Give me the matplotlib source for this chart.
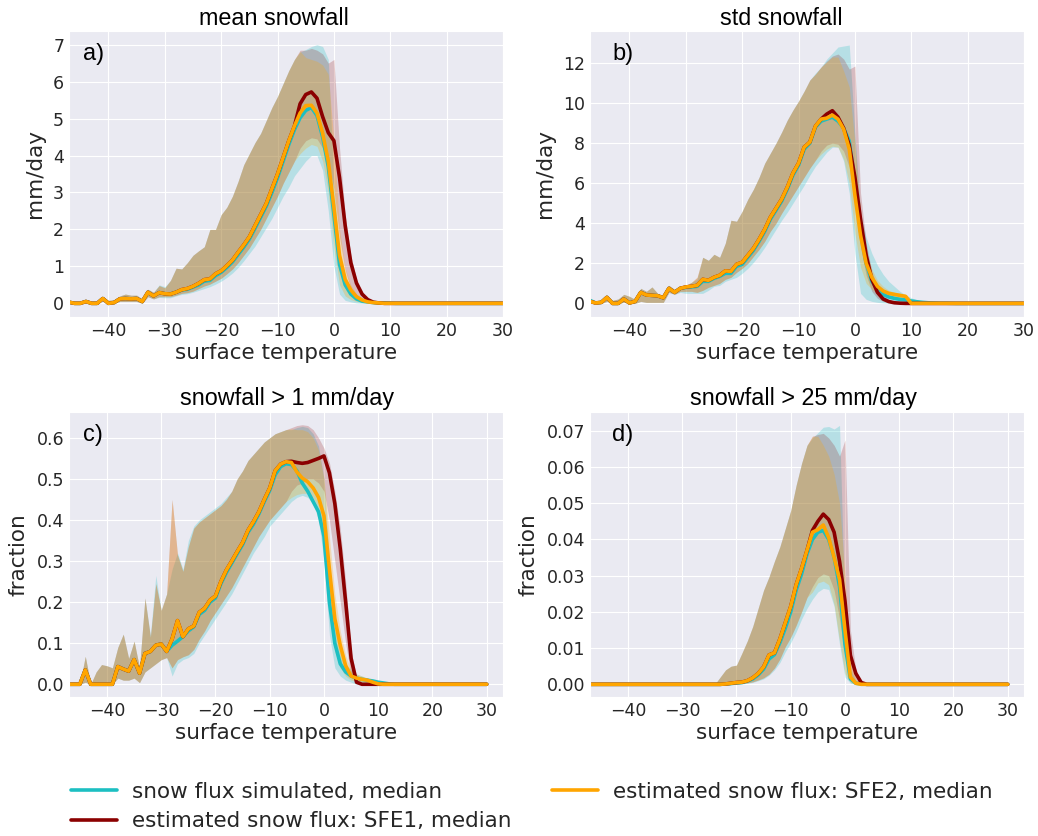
import matplotlib
matplotlib.use("Agg")
import matplotlib.pyplot as plt
import seaborn as sns
from matplotlib.lines import Line2D

# ---------------- data ----------------
T = list(range(-47, 31))  # surface temperature bins

# ---- panel a: mean snowfall ----
A_SIM_MED = [0.03, 0.0, 0.0, 0.05, 0.0, 0.0, 0.13, 0.0, 0.02, 0.12,
             0.13, 0.12, 0.13, 0.05, 0.3, 0.2, 0.29, 0.26, 0.25, 0.3,
             0.36, 0.38, 0.44, 0.5, 0.6, 0.62, 0.75, 0.84, 0.97, 1.12,
             1.32, 1.52, 1.74, 2.03, 2.33, 2.63, 3.0, 3.4, 3.85, 4.3,
             4.7, 5.02, 5.22, 5.3, 5.08, 4.5, 3.7, 2.4, 1.05, 0.5,
             0.25, 0.12, 0.06, 0.04, 0.02, 0.01, 0.01, 0.005, 0, 0,
             0, 0, 0, 0, 0, 0, 0, 0, 0, 0,
             0, 0, 0, 0, 0, 0, 0, 0]
A_SFE2_MED = [0.03, 0.0, 0.0, 0.05, 0.0, 0.0, 0.13, 0.0, 0.02, 0.12,
              0.13, 0.12, 0.13, 0.05, 0.3, 0.2, 0.29, 0.26, 0.25, 0.3,
              0.37, 0.4, 0.46, 0.54, 0.64, 0.66, 0.8, 0.88, 1.02, 1.17,
              1.38, 1.58, 1.8, 2.1, 2.4, 2.7, 3.1, 3.5, 3.95, 4.4,
              4.8, 5.15, 5.35, 5.36, 5.15, 4.6, 3.85, 2.6, 1.3, 0.65,
              0.36, 0.18, 0.09, 0.04, 0.02, 0.01, 0, 0, 0, 0,
              0, 0, 0, 0, 0, 0, 0, 0, 0, 0,
              0, 0, 0, 0, 0, 0, 0, 0]
A_SFE1_MED_WARM = [5.4, 5.65, 5.72, 5.55, 5.05, 4.62, 4.4, 3.4, 2.1, 1.1,
                   0.55, 0.25, 0.1, 0.03, 0.01, 0, 0, 0, 0, 0,
                   0, 0, 0, 0, 0, 0, 0, 0, 0, 0,
                   0, 0, 0, 0, 0, 0, 0]
A_SIM_LO = [0.0, 0.0, 0.0, 0.02, 0.0, 0.0, 0.06, 0.0, 0.0, 0.05,
            0.05, 0.05, 0.05, 0.0, 0.18, 0.12, 0.16, 0.15, 0.15, 0.2,
            0.24, 0.26, 0.3, 0.35, 0.4, 0.45, 0.52, 0.6, 0.7, 0.82,
            0.97, 1.15, 1.35, 1.55, 1.8, 2.05, 2.3, 2.6, 2.9, 3.15,
            3.45, 3.65, 3.85, 4.0, 4.0, 3.6, 2.5, 1.0, 0.25, 0.08,
            0.04, 0.01, 0, 0, 0, 0, 0, 0, 0, 0,
            0, 0, 0, 0, 0, 0, 0, 0, 0, 0,
            0, 0, 0, 0, 0, 0, 0, 0]
A_SIM_HI = [0.05, 0.02, 0.02, 0.08, 0.03, 0.05, 0.18, 0.08, 0.1, 0.2,
            0.25, 0.22, 0.22, 0.12, 0.38, 0.3, 0.5, 0.45, 0.62, 0.95,
            0.93, 1.1, 1.3, 1.42, 1.53, 2.0, 2.0, 2.4, 2.6, 2.9,
            3.3, 3.75, 4.05, 4.35, 4.6, 4.95, 5.3, 5.6, 5.95, 6.3,
            6.6, 6.8, 6.87, 6.95, 7.0, 6.95, 6.6, 3.2, 1.3, 0.65,
            0.35, 0.2, 0.12, 0.08, 0.05, 0.03, 0.02, 0.01, 0.005, 0,
            0, 0, 0, 0, 0, 0, 0, 0, 0, 0,
            0, 0, 0, 0, 0, 0, 0, 0]
A_SFE2_LO = [0.0, 0.0, 0.0, 0.02, 0.0, 0.0, 0.06, 0.0, 0.0, 0.05,
             0.05, 0.05, 0.05, 0.0, 0.18, 0.12, 0.18, 0.18, 0.18, 0.22,
             0.27, 0.29, 0.33, 0.4, 0.47, 0.52, 0.6, 0.68, 0.8, 0.93,
             1.1, 1.3, 1.5, 1.75, 2.0, 2.3, 2.6, 2.9, 3.25, 3.55,
             3.85, 4.05, 4.2, 4.3, 4.25, 3.85, 3.0, 1.5, 0.5, 0.2,
             0.1, 0.05, 0.02, 0.01, 0, 0, 0, 0, 0, 0,
             0, 0, 0, 0, 0, 0, 0, 0, 0, 0,
             0, 0, 0, 0, 0, 0, 0, 0]
A_SFE2_HI = [0.05, 0.02, 0.02, 0.08, 0.03, 0.05, 0.18, 0.08, 0.1, 0.2,
             0.25, 0.22, 0.22, 0.12, 0.38, 0.3, 0.48, 0.42, 0.62, 0.95,
             0.93, 1.1, 1.3, 1.42, 1.53, 2.0, 2.0, 2.4, 2.6, 2.9,
             3.3, 3.75, 4.05, 4.35, 4.6, 4.95, 5.3, 5.6, 5.95, 6.3,
             6.6, 6.82, 6.65, 6.6, 6.55, 6.45, 6.2, 4.4, 2.0, 0.95,
             0.5, 0.25, 0.12, 0.06, 0.03, 0.01, 0, 0, 0, 0,
             0, 0, 0, 0, 0, 0, 0, 0, 0, 0,
             0, 0, 0, 0, 0, 0, 0, 0]
A_SFE1_LO_WARM = [4.2, 4.4, 4.48, 4.45, 4.2, 3.8, 3.1, 1.8, 0.9, 0.4,
                  0.15, 0.05, 0.02, 0, 0, 0, 0, 0, 0, 0,
                  0, 0, 0, 0, 0, 0, 0, 0, 0, 0,
                  0, 0, 0, 0, 0, 0, 0]
A_SFE1_HI_WARM = [6.85, 6.85, 6.9, 6.85, 6.75, 6.5, 6.6, 4.2, 2.4, 1.3,
                  0.65, 0.3, 0.12, 0.05, 0.02, 0, 0, 0, 0, 0,
                  0, 0, 0, 0, 0, 0, 0, 0, 0, 0,
                  0, 0, 0, 0, 0, 0, 0]

# ---- panel b: std snowfall ----
B_SIM_MED = [0.15, 0.02, 0.05, 0.3, 0.0, 0.0, 0.22, 0.02, 0.1, 0.55,
             0.42, 0.4, 0.38, 0.28, 0.75, 0.55, 0.75, 0.8, 0.82, 0.85,
             1.1, 1.1, 1.25, 1.35, 1.5, 1.5, 1.85, 1.95, 2.3, 2.65,
             3.1, 3.6, 4.2, 4.65, 5.1, 5.7, 6.4, 6.9, 7.7, 8.0,
             8.8, 9.1, 9.2, 9.3, 9.1, 8.75, 8.1, 6.0, 3.6, 2.0,
             1.1, 0.7, 0.45, 0.32, 0.25, 0.2, 0.17, 0.12, 0.08, 0.05,
             0.03, 0.02, 0.01, 0.01, 0.005, 0, 0, 0, 0, 0,
             0, 0, 0, 0, 0, 0, 0, 0]
B_SFE2_MED = [0.1, 0.02, 0.05, 0.3, 0.0, 0.0, 0.22, 0.02, 0.1, 0.55,
              0.42, 0.4, 0.38, 0.28, 0.75, 0.55, 0.75, 0.82, 0.85, 0.9,
              1.2, 1.15, 1.3, 1.4, 1.62, 1.6, 1.95, 2.05, 2.4, 2.75,
              3.2, 3.7, 4.3, 4.75, 5.2, 5.8, 6.5, 7.0, 7.8, 8.05,
              8.85, 9.2, 9.25, 9.4, 9.2, 8.7, 7.7, 5.4, 3.4, 2.0,
              1.3, 0.85, 0.62, 0.5, 0.45, 0.4, 0.35, 0.0, 0, 0,
              0, 0, 0, 0, 0, 0, 0, 0, 0, 0,
              0, 0, 0, 0, 0, 0, 0, 0]
B_SFE1_MED_WARM = [9.2, 9.45, 9.62, 9.3, 8.75, 7.9, 6.3, 4.2, 2.4, 1.2,
                   0.55, 0.22, 0.09, 0.03, 0.01, 0, 0, 0, 0, 0,
                   0, 0, 0, 0, 0, 0, 0, 0, 0, 0,
                   0, 0, 0, 0, 0, 0, 0]
B_SIM_LO = [0.0, 0.0, 0.0, 0.1, 0.0, 0.0, 0.05, 0.0, 0.0, 0.1,
            0.05, 0.05, 0.05, 0.05, 0.55, 0.45, 0.55, 0.5, 0.5, 0.5,
            0.5, 0.65, 0.85, 0.9, 1.1, 1.2, 1.3, 1.5, 1.75, 2.05,
            2.4, 2.8, 3.25, 3.7, 4.15, 4.55, 5.0, 5.45, 5.9, 6.4,
            6.85, 7.2, 7.55, 7.8, 7.8, 7.1, 5.5, 2.5, 0.5, 0.2,
            0.1, 0.05, 0.02, 0.01, 0, 0, 0, 0, 0, 0,
            0, 0, 0, 0, 0, 0, 0, 0, 0, 0,
            0, 0, 0, 0, 0, 0, 0, 0]
B_SIM_HI = [0.2, 0.05, 0.08, 0.35, 0.15, 0.22, 0.45, 0.35, 0.2, 0.75,
            0.6, 0.82, 0.5, 0.35, 0.9, 0.7, 0.8, 0.9, 1.05, 1.2,
            2.3, 2.15, 2.45, 2.3, 3.0, 4.15, 4.1, 4.6, 5.2, 5.7,
            6.3, 7.0, 7.5, 8.0, 8.55, 9.15, 9.65, 10.1, 10.6, 11.15,
            11.5, 11.8, 12.2, 12.5, 12.8, 12.85, 12.9, 8.5, 4.5, 3.3,
            2.5, 1.9, 1.45, 1.1, 0.85, 0.6, 0.42, 0.28, 0.18, 0.1,
            0.06, 0.04, 0.02, 0.01, 0.005, 0, 0, 0, 0, 0,
            0, 0, 0, 0, 0, 0, 0, 0]
B_SFE2_LO = [0.0, 0.0, 0.0, 0.1, 0.0, 0.0, 0.05, 0.0, 0.0, 0.1,
             0.05, 0.05, 0.05, 0.05, 0.55, 0.45, 0.6, 0.6, 0.6, 0.55,
             0.65, 0.8, 0.9, 1.0, 1.2, 1.3, 1.55, 1.75, 2.0, 2.35,
             2.7, 3.1, 3.6, 4.0, 4.5, 4.95, 5.4, 5.85, 6.3, 6.75,
             7.15, 7.45, 7.7, 7.85, 7.8, 7.2, 6.0, 3.5, 1.8, 1.0,
             0.7, 0.5, 0.4, 0.35, 0.3, 0.28, 0.25, 0, 0, 0,
             0, 0, 0, 0, 0, 0, 0, 0, 0, 0,
             0, 0, 0, 0, 0, 0, 0, 0]
B_SFE2_HI = [0.15, 0.05, 0.08, 0.35, 0.15, 0.22, 0.45, 0.35, 0.2, 0.75,
             0.6, 0.82, 0.5, 0.35, 0.9, 0.7, 0.8, 0.9, 1.05, 1.3,
             2.3, 2.15, 2.45, 2.3, 3.0, 4.15, 4.1, 4.6, 5.2, 5.7,
             6.3, 7.0, 7.5, 8.0, 8.55, 9.15, 9.65, 10.1, 10.6, 11.15,
             11.45, 11.8, 12.05, 12.3, 12.3, 11.6, 10.8, 8.0, 4.5, 2.6,
             1.7, 1.15, 0.85, 0.65, 0.55, 0.5, 0.45, 0.05, 0, 0,
             0, 0, 0, 0, 0, 0, 0, 0, 0, 0,
             0, 0, 0, 0, 0, 0, 0, 0]
B_SFE1_LO_WARM = [7.6, 7.9, 8.0, 7.95, 7.6, 6.8, 5.0, 2.8, 1.4, 0.6,
                  0.25, 0.1, 0.04, 0.01, 0, 0, 0, 0, 0, 0,
                  0, 0, 0, 0, 0, 0, 0, 0, 0, 0,
                  0, 0, 0, 0, 0, 0, 0]
B_SFE1_HI_WARM = [11.8, 12.1, 12.35, 12.45, 12.2, 11.7, 11.85, 5.5, 3.0, 1.6,
                  0.8, 0.4, 0.2, 0.1, 0.05, 0.02, 0, 0, 0, 0,
                  0, 0, 0, 0, 0, 0, 0, 0, 0, 0,
                  0, 0, 0, 0, 0, 0, 0]

# ---- panel c: fraction of days with snowfall > 1 mm/day ----
C_SIM_MED = [0, 0, 0, 0.035, 0, 0, 0, 0, 0, 0.043,
             0.037, 0.032, 0.06, 0.027, 0.075, 0.08, 0.095, 0.098, 0.08, 0.095,
             0.105, 0.116, 0.13, 0.14, 0.17, 0.18, 0.2, 0.21, 0.245, 0.272,
             0.295, 0.318, 0.34, 0.37, 0.39, 0.415, 0.445, 0.472, 0.51, 0.53,
             0.537, 0.535, 0.52, 0.49, 0.47, 0.445, 0.42, 0.36, 0.2, 0.1,
             0.05, 0.03, 0.02, 0.015, 0.012, 0.01, 0.008, 0.005, 0.003, 0.001,
             0, 0, 0, 0, 0, 0, 0, 0, 0, 0,
             0, 0, 0, 0, 0, 0, 0, 0]
C_SFE2_MED = [0, 0, 0, 0.035, 0, 0, 0, 0, 0, 0.043,
              0.037, 0.032, 0.06, 0.027, 0.075, 0.08, 0.095, 0.098, 0.08, 0.11,
              0.155, 0.116, 0.135, 0.142, 0.175, 0.185, 0.205, 0.215, 0.25, 0.278,
              0.3, 0.323, 0.345, 0.375, 0.396, 0.42, 0.45, 0.478, 0.52, 0.536,
              0.542, 0.54, 0.517, 0.502, 0.493, 0.478, 0.455, 0.41, 0.28, 0.16,
              0.095, 0.045, 0.02, 0.015, 0.012, 0.01, 0.005, 0.001, 0, 0,
              0, 0, 0, 0, 0, 0, 0, 0, 0, 0,
              0, 0, 0, 0, 0, 0, 0, 0]
C_SFE1_MED_WARM = [0.543, 0.54, 0.538, 0.54, 0.545, 0.55, 0.556, 0.515, 0.44, 0.33,
                   0.2, 0.063, 0.005, 0, 0, 0, 0, 0, 0, 0,
                   0, 0, 0, 0, 0, 0, 0, 0, 0, 0,
                   0, 0, 0, 0, 0, 0, 0]
C_SIM_LO = [0, 0, 0, 0.005, 0, 0, 0, 0, 0, 0.015,
            0.01, 0.01, 0.015, 0.004, 0.03, 0.04, 0.05, 0.06, 0.065, 0.02,
            0.05, 0.06, 0.065, 0.075, 0.1, 0.12, 0.14, 0.16, 0.18, 0.2,
            0.22, 0.245, 0.27, 0.295, 0.32, 0.34, 0.36, 0.385, 0.4, 0.415,
            0.43, 0.445, 0.455, 0.46, 0.455, 0.44, 0.4, 0.3, 0.12, 0.04,
            0.02, 0.01, 0.005, 0, 0, 0, 0, 0, 0, 0,
            0, 0, 0, 0, 0, 0, 0, 0, 0, 0,
            0, 0, 0, 0, 0, 0, 0, 0]
C_SIM_HI = [0, 0, 0, 0.068, 0, 0.03, 0.048, 0.045, 0.04, 0.09,
            0.122, 0.063, 0.105, 0.04, 0.21, 0.12, 0.265, 0.18, 0.22, 0.28,
            0.32, 0.28, 0.35, 0.385, 0.4, 0.41, 0.42, 0.43, 0.44, 0.455,
            0.47, 0.5, 0.52, 0.545, 0.56, 0.575, 0.59, 0.6, 0.61, 0.615,
            0.62, 0.62, 0.625, 0.628, 0.625, 0.61, 0.58, 0.5, 0.3, 0.15,
            0.08, 0.05, 0.035, 0.025, 0.02, 0.015, 0.01, 0.008, 0.005, 0.003,
            0, 0, 0, 0, 0, 0, 0, 0, 0, 0,
            0, 0, 0, 0, 0, 0, 0, 0]
C_SFE2_LO = [0, 0, 0, 0.005, 0, 0, 0, 0, 0, 0.015,
             0.01, 0.01, 0.015, 0.004, 0.03, 0.04, 0.05, 0.06, 0.065, 0.04,
             0.06, 0.067, 0.072, 0.085, 0.11, 0.13, 0.155, 0.175, 0.195, 0.215,
             0.235, 0.26, 0.285, 0.31, 0.335, 0.36, 0.38, 0.4, 0.415, 0.43,
             0.445, 0.455, 0.462, 0.465, 0.465, 0.455, 0.43, 0.35, 0.18, 0.08,
             0.04, 0.02, 0.01, 0.008, 0.006, 0.004, 0.002, 0, 0, 0,
             0, 0, 0, 0, 0, 0, 0, 0, 0, 0,
             0, 0, 0, 0, 0, 0, 0, 0]
C_SFE2_HI = [0, 0, 0, 0.068, 0, 0.03, 0.048, 0.045, 0.04, 0.09,
             0.122, 0.063, 0.105, 0.04, 0.21, 0.115, 0.245, 0.18, 0.22, 0.45,
             0.315, 0.275, 0.335, 0.38, 0.395, 0.405, 0.415, 0.425, 0.435, 0.45,
             0.47, 0.5, 0.52, 0.545, 0.56, 0.575, 0.59, 0.6, 0.61, 0.615,
             0.62, 0.622, 0.62, 0.62, 0.615, 0.6, 0.57, 0.5, 0.36, 0.22,
             0.13, 0.07, 0.035, 0.025, 0.02, 0.015, 0.008, 0.002, 0, 0,
             0, 0, 0, 0, 0, 0, 0, 0, 0, 0,
             0, 0, 0, 0, 0, 0, 0, 0]
C_SFE1_LO_WARM = [0.47, 0.485, 0.49, 0.5, 0.5, 0.49, 0.47, 0.4, 0.3, 0.2,
                  0.1, 0.02, 0.003, 0, 0, 0, 0, 0, 0, 0,
                  0, 0, 0, 0, 0, 0, 0, 0, 0, 0,
                  0, 0, 0, 0, 0, 0, 0]
C_SFE1_HI_WARM = [0.625, 0.63, 0.632, 0.63, 0.62, 0.6, 0.575, 0.54, 0.47, 0.38,
                  0.25, 0.08, 0.02, 0.005, 0, 0, 0, 0, 0, 0,
                  0, 0, 0, 0, 0, 0, 0, 0, 0, 0,
                  0, 0, 0, 0, 0, 0, 0]

# ---- panel d: fraction of days with snowfall > 25 mm/day ----
D_SIM_MED = [0, 0, 0, 0, 0, 0, 0, 0, 0, 0,
             0, 0, 0, 0, 0, 0, 0, 0, 0, 0,
             0, 0, 0, 0, 0, 0.0001, 0.0002, 0.0004, 0.0005, 0.0009,
             0.0015, 0.0026, 0.0042, 0.007, 0.0082, 0.0115, 0.0155, 0.02, 0.026, 0.0305,
             0.036, 0.04, 0.042, 0.0425, 0.04, 0.035, 0.027, 0.011, 0.0015, 0.0003,
             0.0001, 0, 0, 0, 0, 0, 0, 0, 0, 0,
             0, 0, 0, 0, 0, 0, 0, 0, 0, 0,
             0, 0, 0, 0, 0, 0, 0, 0]
D_SFE2_MED = [0, 0, 0, 0, 0, 0, 0, 0, 0, 0,
              0, 0, 0, 0, 0, 0, 0, 0, 0, 0,
              0, 0, 0, 0, 0, 0.0001, 0.0003, 0.0005, 0.0006, 0.001,
              0.0018, 0.003, 0.0048, 0.0081, 0.0087, 0.0125, 0.017, 0.0215, 0.0275, 0.032,
              0.037, 0.042, 0.0427, 0.044, 0.0405, 0.035, 0.029, 0.015, 0.002, 0.0003,
              0, 0, 0, 0, 0, 0, 0, 0, 0, 0,
              0, 0, 0, 0, 0, 0, 0, 0, 0, 0,
              0, 0, 0, 0, 0, 0, 0, 0]
D_SFE1_MED_WARM = [0.0425, 0.045, 0.047, 0.0455, 0.042, 0.034, 0.023, 0.008, 0.003, 0.0005,
                   0, 0, 0, 0, 0, 0, 0, 0, 0, 0,
                   0, 0, 0, 0, 0, 0, 0, 0, 0, 0,
                   0, 0, 0, 0, 0, 0, 0]
D_SIM_LO = [0, 0, 0, 0, 0, 0, 0, 0, 0, 0,
            0, 0, 0, 0, 0, 0, 0, 0, 0, 0,
            0, 0, 0, 0, 0, 0, 0, 0, 0.0001, 0.0003,
            0.0005, 0.001, 0.0015, 0.0025, 0.004, 0.006, 0.009, 0.0115, 0.0145, 0.018,
            0.021, 0.0235, 0.0255, 0.0265, 0.0262, 0.0215, 0.011, 0.002, 0.0003, 0,
            0, 0, 0, 0, 0, 0, 0, 0, 0, 0,
            0, 0, 0, 0, 0, 0, 0, 0, 0, 0,
            0, 0, 0, 0, 0, 0, 0, 0]
D_SIM_HI = [0, 0, 0, 0, 0, 0, 0, 0, 0, 0,
            0, 0, 0, 0, 0, 0, 0, 0, 0, 0,
            0, 0, 0, 0, 0.002, 0.004, 0.005, 0.0053, 0.0086, 0.012,
            0.016, 0.021, 0.026, 0.0297, 0.034, 0.038, 0.043, 0.048, 0.055, 0.061,
            0.066, 0.068, 0.0695, 0.071, 0.0712, 0.0705, 0.0715, 0.02, 0.004, 0.001,
            0.0003, 0, 0, 0, 0, 0, 0, 0, 0, 0,
            0, 0, 0, 0, 0, 0, 0, 0, 0, 0,
            0, 0, 0, 0, 0, 0, 0, 0]
D_SFE2_LO = [0, 0, 0, 0, 0, 0, 0, 0, 0, 0,
             0, 0, 0, 0, 0, 0, 0, 0, 0, 0,
             0, 0, 0, 0, 0, 0, 0, 0, 0.0002, 0.0004,
             0.0007, 0.0012, 0.0018, 0.0028, 0.0045, 0.007, 0.0104, 0.013, 0.0163, 0.02,
             0.024, 0.0255, 0.028, 0.0285, 0.0275, 0.022, 0.012, 0.003, 0.0005, 0,
             0, 0, 0, 0, 0, 0, 0, 0, 0, 0,
             0, 0, 0, 0, 0, 0, 0, 0, 0, 0,
             0, 0, 0, 0, 0, 0, 0, 0]
D_SFE2_HI = [0, 0, 0, 0, 0, 0, 0, 0, 0, 0,
             0, 0, 0, 0, 0, 0, 0, 0, 0, 0,
             0, 0, 0, 0, 0.002, 0.004, 0.005, 0.0053, 0.0086, 0.012,
             0.016, 0.021, 0.026, 0.0297, 0.034, 0.038, 0.043, 0.048, 0.055, 0.061,
             0.066, 0.0685, 0.0685, 0.066, 0.063, 0.058, 0.05, 0.03, 0.006, 0.0015,
             0.0003, 0, 0, 0, 0, 0, 0, 0, 0, 0,
             0, 0, 0, 0, 0, 0, 0, 0, 0, 0,
             0, 0, 0, 0, 0, 0, 0, 0]
D_SFE1_LO_WARM = [0.027, 0.0295, 0.0305, 0.03, 0.026, 0.018, 0.008, 0.002, 0.0005, 0,
                  0, 0, 0, 0, 0, 0, 0, 0, 0, 0,
                  0, 0, 0, 0, 0, 0, 0, 0, 0, 0,
                  0, 0, 0, 0, 0, 0, 0]
D_SFE1_HI_WARM = [0.0685, 0.069, 0.0693, 0.068, 0.066, 0.063, 0.0675, 0.015, 0.004, 0.001,
                  0, 0, 0, 0, 0, 0, 0, 0, 0, 0,
                  0, 0, 0, 0, 0, 0, 0, 0, 0, 0,
                  0, 0, 0, 0, 0, 0, 0]

# SFE1 and SFE2 coincide below -6 degC (index 41 = -6)
N_COLD = 41

TITLES = ["mean snowfall", "std snowfall", "snowfall > 1 mm/day", "snowfall > 25 mm/day"]
LETTERS = ["a)", "b)", "c)", "d)"]
YLABELS = ["mm/day", "mm/day", "fraction", "fraction"]
XLABEL = "surface temperature"
LEGEND_LABELS = ["snow flux simulated, median",
                 "estimated snow flux: SFE1, median",
                 "estimated snow flux: SFE2, median"]

C_SIM = "#1cbfc2"
C_SFE1 = "#8b0000"
C_SFE2 = "#ffa500"

# ---------------- plotting ----------------
sns.set_style("darkgrid")
plt.rcParams["font.family"] = ["DejaVu Sans"]

W, H = 1038, 836
fig = plt.figure(figsize=(W / 100, H / 100), dpi=100)


def add_ax(l, t, r, b):
    return fig.add_axes([l / W, 1 - b / H, (r - l) / W, (b - t) / H])


panels = [
    dict(box=(69, 31, 503, 317),
         sim=(A_SIM_MED, A_SIM_LO, A_SIM_HI),
         s2=(A_SFE2_MED, A_SFE2_LO, A_SFE2_HI),
         s1=(A_SFE1_MED_WARM, A_SFE1_LO_WARM, A_SFE1_HI_WARM),
         ylim=(-0.37, 7.37), yticks=[0, 1, 2, 3, 4, 5, 6, 7], xlim=(-47, 30),
         title_xy=(274, 25)),
    dict(box=(590, 31, 1024, 317),
         sim=(B_SIM_MED, B_SIM_LO, B_SIM_HI),
         s2=(B_SFE2_MED, B_SFE2_LO, B_SFE2_HI),
         s1=(B_SFE1_MED_WARM, B_SFE1_LO_WARM, B_SFE1_HI_WARM),
         ylim=(-0.68, 13.6), yticks=[0, 2, 4, 6, 8, 10, 12], xlim=(-47, 30),
         title_xy=(781, 25)),
    dict(box=(69, 412, 503, 697),
         sim=(C_SIM_MED, C_SIM_LO, C_SIM_HI),
         s2=(C_SFE2_MED, C_SFE2_LO, C_SFE2_HI),
         s1=(C_SFE1_MED_WARM, C_SFE1_LO_WARM, C_SFE1_HI_WARM),
         ylim=(-0.031, 0.663), yticks=[0.0, 0.1, 0.2, 0.3, 0.4, 0.5, 0.6], xlim=(-47, 33),
         title_xy=(287, 405)),
    dict(box=(590, 412, 1024, 697),
         sim=(D_SIM_MED, D_SIM_LO, D_SIM_HI),
         s2=(D_SFE2_MED, D_SFE2_LO, D_SFE2_HI),
         s1=(D_SFE1_MED_WARM, D_SFE1_LO_WARM, D_SFE1_HI_WARM),
         ylim=(-0.0035, 0.0752), yticks=[0.0, 0.01, 0.02, 0.03, 0.04, 0.05, 0.06, 0.07],
         xlim=(-47, 33), title_xy=(804, 405)),
]

for i, p in enumerate(panels):
    ax = add_ax(*p["box"])
    sim_med, sim_lo, sim_hi = p["sim"]
    s2_med, s2_lo, s2_hi = p["s2"]
    s1_med = s2_med[:N_COLD] + p["s1"][0]
    s1_lo = s2_lo[:N_COLD] + p["s1"][1]
    s1_hi = s2_hi[:N_COLD] + p["s1"][2]

    ax.fill_between(T, sim_lo, sim_hi, color=C_SIM, alpha=0.25, lw=0)
    ax.fill_between(T, s1_lo, s1_hi, color=C_SFE1, alpha=0.2, lw=0)
    ax.fill_between(T, s2_lo, s2_hi, color=C_SFE2, alpha=0.25, lw=0)
    ax.plot(T, sim_med, color=C_SIM, lw=2.6, solid_joinstyle="round")
    ax.plot(T, s1_med, color=C_SFE1, lw=2.6, solid_joinstyle="round")
    ax.plot(T, s2_med, color=C_SFE2, lw=2.6, solid_joinstyle="round")

    ax.set_xlim(*p["xlim"])
    ax.set_ylim(*p["ylim"])
    ax.set_xticks([-40, -30, -20, -10, 0, 10, 20, 30])
    ax.set_yticks(p["yticks"])
    if i == 3:
        ax.set_yticklabels(["%.2f" % v for v in p["yticks"]])
    elif i == 2:
        ax.set_yticklabels(["%.1f" % v for v in p["yticks"]])
    ax.tick_params(labelsize=12.5, colors=".15", length=0)
    ax.set_xlabel(XLABEL, fontsize=15.5, color=".15", labelpad=2)
    ax.set_ylabel(YLABELS[i], fontsize=15.5, color=".15", labelpad=6)

    tx, ty = p["title_xy"]
    fig.text(tx / W, 1 - ty / H, TITLES[i], ha="center", va="baseline",
             fontsize=16.8, family="Liberation Sans", color="black")
    ax.text(0.032 if i % 2 == 0 else 0.051, 0.958, LETTERS[i], transform=ax.transAxes,
            ha="left", va="top", fontsize=17, family="Liberation Sans", color="black")

handles = [Line2D([], [], color=c, lw=2.6) for c in (C_SIM, C_SFE1, C_SFE2)]
fig.legend(handles, LEGEND_LABELS, loc="upper left", bbox_to_anchor=(71 / W, 1 - 782 / H),
           ncol=2, frameon=False, fontsize=15.5, handlelength=2.15, handletextpad=0.7,
           columnspacing=1.85, labelspacing=0.42, borderpad=0, borderaxespad=0)

fig.savefig("out.png", dpi=100)
